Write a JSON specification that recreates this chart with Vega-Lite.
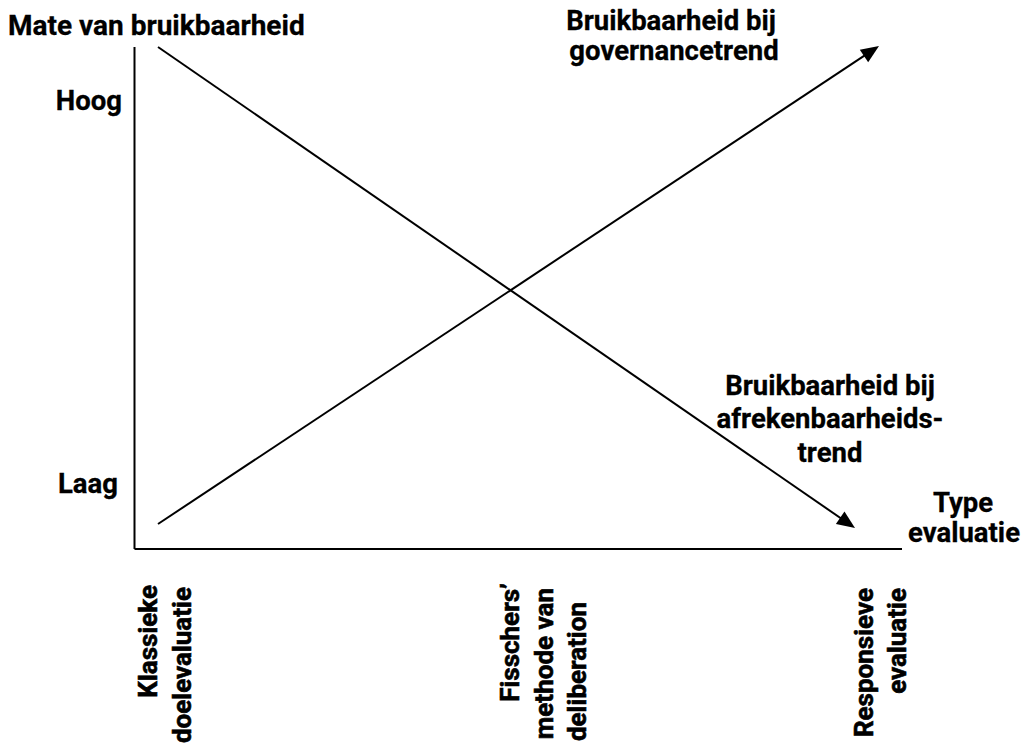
{
  "$schema": "https://vega.github.io/schema/vega-lite/v6.json",
  "width": 1021,
  "height": 749,
  "padding": 0,
  "autosize": {"type": "fit", "contains": "padding"},
  "background": "white",
  "config": {"view": {"stroke": null}},
  "datasets": {
    "lines": [
      {"series": "yaxis", "x": 134.5, "y": 47},
      {"series": "yaxis", "x": 134.5, "y": 549},
      {"series": "xaxis", "x": 134.5, "y": 549},
      {"series": "xaxis", "x": 902, "y": 549},
      {"series": "afrekenbaarheid", "x": 158, "y": 47},
      {"series": "afrekenbaarheid", "x": 848.4, "y": 523.5},
      {"series": "governance", "x": 158, "y": 524},
      {"series": "governance", "x": 872.3, "y": 50.4}
    ],
    "arrows": [
      {"series": "afrekenbaarheid", "x": 855, "y": 528},
      {"series": "governance", "x": 879, "y": 46}
    ],
    "centerLabels": [
      {"label": "Bruikbaarheid bij", "x": 671, "y": 30},
      {"label": "governancetrend", "x": 674, "y": 60},
      {"label": "Bruikbaarheid bij", "x": 830, "y": 395},
      {"label": "afrekenbaarheids-", "x": 830, "y": 428},
      {"label": "trend", "x": 830, "y": 462},
      {"label": "Type", "x": 963, "y": 512},
      {"label": "evaluatie", "x": 964, "y": 542}
    ],
    "rightLabels": [
      {"label": "Hoog", "x": 122, "y": 110},
      {"label": "Laag", "x": 118, "y": 493}
    ],
    "leftLabels": [
      {"label": "Mate van bruikbaarheid", "x": 8, "y": 35}
    ],
    "typeLabels": [
      {"label": "Klassieke", "x": 157, "y": 585},
      {"label": "doelevaluatie", "x": 191, "y": 587},
      {"label": "Fisschers’", "x": 519, "y": 583},
      {"label": "methode van", "x": 553, "y": 588},
      {"label": "deliberation", "x": 586, "y": 602},
      {"label": "Responsieve", "x": 873, "y": 588},
      {"label": "evaluatie", "x": 906, "y": 588}
    ]
  },
  "encoding": {
    "x": {"field": "x", "type": "quantitative", "scale": {"domain": [0, 1021], "nice": false, "zero": false}, "axis": null},
    "y": {"field": "y", "type": "quantitative", "scale": {"domain": [0, 749], "nice": false, "zero": false, "reverse": true}, "axis": null}
  },
  "layer": [
    {
      "data": {"name": "lines"},
      "mark": {"type": "line", "color": "black", "strokeWidth": 2, "strokeCap": "butt"},
      "encoding": {"detail": {"field": "series", "type": "nominal"}}
    },
    {
      "data": {"name": "arrows"},
      "transform": [{"filter": "datum.series === 'afrekenbaarheid'"}],
      "mark": {"type": "point", "shape": "M0,0L-1,-0.42L-1,0.42Z", "filled": true, "color": "black", "opacity": 1, "size": 1296, "angle": 34.6}
    },
    {
      "data": {"name": "arrows"},
      "transform": [{"filter": "datum.series === 'governance'"}],
      "mark": {"type": "point", "shape": "M0,0L-1,-0.42L-1,0.42Z", "filled": true, "color": "black", "opacity": 1, "size": 1296, "angle": 326.5}
    },
    {
      "data": {"name": "centerLabels"},
      "mark": {"type": "text", "font": "Roboto", "fontWeight": "bold", "fontSize": 27.5, "align": "center", "baseline": "alphabetic", "color": "black", "stroke": "black", "strokeWidth": 0.3},
      "encoding": {"text": {"field": "label"}}
    },
    {
      "data": {"name": "rightLabels"},
      "mark": {"type": "text", "font": "Roboto", "fontWeight": "bold", "fontSize": 27.5, "align": "right", "baseline": "alphabetic", "color": "black", "stroke": "black", "strokeWidth": 0.3},
      "encoding": {"text": {"field": "label"}}
    },
    {
      "data": {"name": "leftLabels"},
      "mark": {"type": "text", "font": "Roboto", "fontWeight": "bold", "fontSize": 28, "align": "left", "baseline": "alphabetic", "color": "black", "stroke": "black", "strokeWidth": 0.3},
      "encoding": {"text": {"field": "label"}}
    },
    {
      "data": {"name": "typeLabels"},
      "mark": {"type": "text", "font": "Roboto", "fontWeight": "bold", "fontSize": 26, "align": "right", "baseline": "alphabetic", "angle": 270, "color": "black", "stroke": "black", "strokeWidth": 0.6},
      "encoding": {"text": {"field": "label"}}
    }
  ]
}
